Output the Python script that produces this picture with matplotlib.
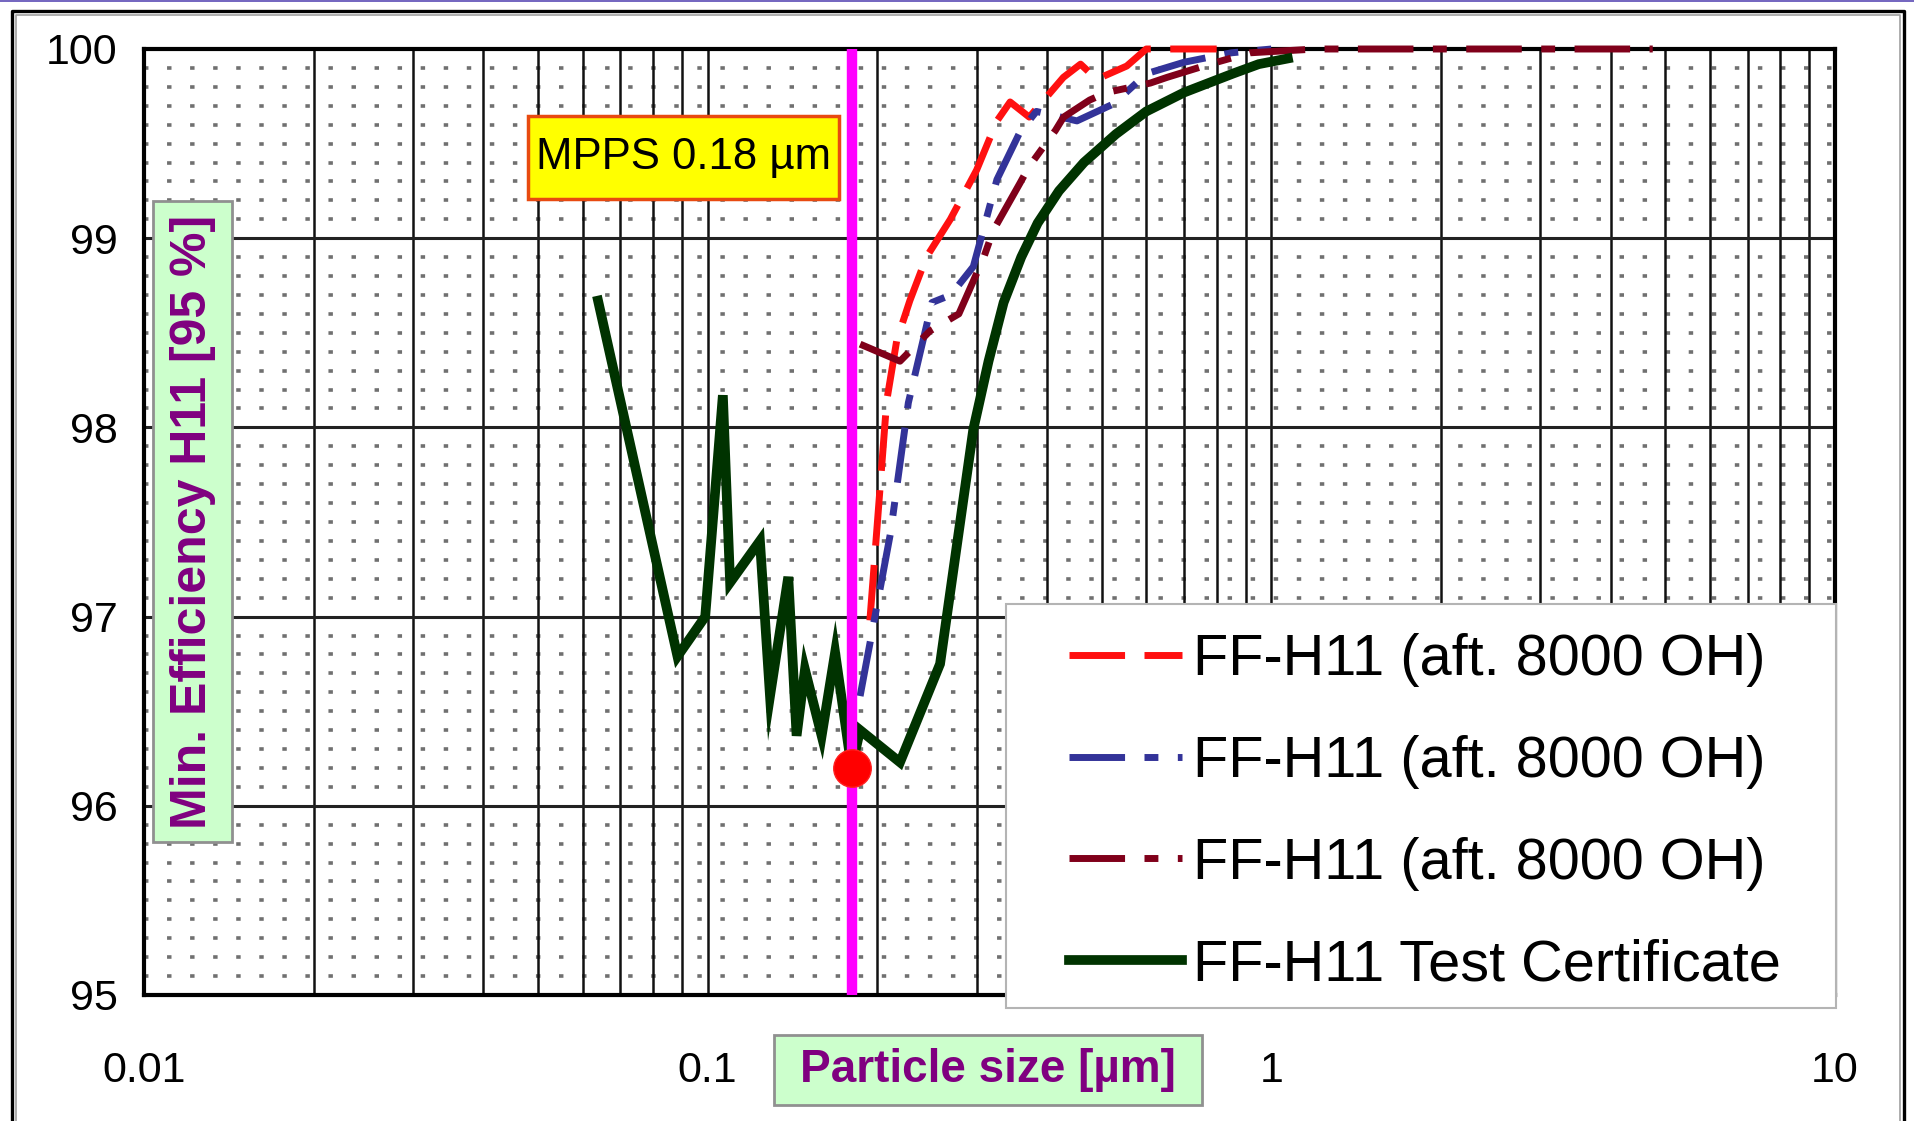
import matplotlib
matplotlib.use("Agg")
import matplotlib.pyplot as plt
from matplotlib.patches import Rectangle
from matplotlib.lines import Line2D
from matplotlib.ticker import NullLocator

plt.rcParams["font.family"] = ["Liberation Sans", "DejaVu Sans"]
plt.rcParams["lines.scale_dashes"] = False

# ---------------- data ----------------
mpps_size = 0.18          # most penetrating particle size [µm]
mpps_eff = 96.2           # efficiency at MPPS [%]

cert_x = [0.0639, 0.0884, 0.0990, 0.1064, 0.1096, 0.1238, 0.129, 0.139, 0.1438,
          0.1488, 0.1593, 0.1683, 0.18, 0.1864, 0.2194, 0.2584, 0.296, 0.315,
          0.335, 0.36, 0.385, 0.42, 0.465, 0.53, 0.60, 0.70, 0.855, 0.95, 1.07]
cert_y = [98.67, 96.79, 97.00, 98.17, 97.18, 97.40, 96.58, 97.21, 96.37,
          96.72, 96.37, 96.81, 96.20, 96.40, 96.23, 96.75, 97.99, 98.35,
          98.66, 98.90, 99.08, 99.25, 99.40, 99.55, 99.67, 99.77, 99.87, 99.92, 99.95]

red_x = [0.194, 0.2078, 0.2165, 0.2284, 0.2444, 0.2695, 0.300, 0.326, 0.344,
         0.372, 0.4276, 0.4587, 0.49, 0.554, 0.60, 0.80]
red_y = [96.98, 98.14, 98.46, 98.67, 98.90, 99.10, 99.36, 99.62, 99.72,
         99.64, 99.85, 99.92, 99.84, 99.91, 100.0, 100.0]

blue_x = [0.1864, 0.211, 0.227, 0.25, 0.27, 0.296, 0.326, 0.358, 0.383,
          0.452, 0.525, 0.601, 0.70, 0.85, 1.0]
blue_y = [96.58, 97.44, 98.13, 98.66, 98.70, 98.85, 99.31, 99.56, 99.67,
          99.62, 99.71, 99.87, 99.93, 99.98, 100.0]

maroon_x = [0.1864, 0.2194, 0.248, 0.279, 0.309, 0.321, 0.358, 0.372, 0.414,
            0.428, 0.476, 0.51, 0.61, 0.653, 0.778, 0.917, 1.2, 4.75]
maroon_y = [98.44, 98.35, 98.51, 98.60, 98.90, 99.04, 99.29, 99.38, 99.57,
            99.64, 99.73, 99.77, 99.82, 99.85, 99.92, 99.98, 100.0, 100.0]

series_labels = ["FF-H11 (aft. 8000 OH)", "FF-H11 (aft. 8000 OH)",
                 "FF-H11 (aft. 8000 OH)", "FF-H11 Test Certificate"]

x_ticks = [0.01, 0.1, 1, 10]
x_ticklabels = ["0.01", "0.1", "1", "10"]
y_ticks = [95, 96, 97, 98, 99, 100]
y_ticklabels = ["95", "96", "97", "98", "99", "100"]

# ---------------- figure ----------------
W, H = 1914, 1121
fig = plt.figure(figsize=(W / 100, H / 100), dpi=100)
fig.patch.set_facecolor("white")
ax = fig.add_axes([144 / W, 1 - 995 / H, (1835 - 144) / W, (995 - 49) / H])
ax.set_xscale("log")
ax.set_xlim(0.01, 10)
ax.set_ylim(95, 100)
ax.set_axisbelow(False)

# grid: solid verticals at every 1..9 x decade, solid horizontals at integers,
# dotted rows every 0.1 %
for k in (-2, -1, 0):
    for m in range(1, 10):
        xv = m * 10.0 ** k
        if 0.01 < xv < 10:
            ax.axvline(xv, color="#111111", lw=1.8, zorder=1.2)
for yv in range(96, 100):
    ax.axhline(yv, color="#222222", lw=2.2, zorder=1.2)
for i in range(50):
    yv = 95 + i * 0.1
    if i % 10 != 0:
        ax.axhline(yv, color="#707070", lw=2.6, linestyle=(0, (3.2, 13.4)),
                   solid_capstyle="butt", dash_capstyle="butt", zorder=1)

# curves
h_red, = ax.plot(red_x, red_y, color="#FF1010", lw=5, linestyle=(0, (40, 14)),
                 clip_on=False, zorder=3.0)
h_blue, = ax.plot(blue_x, blue_y, color="#333399", lw=5,
                  linestyle=(0, (40, 14, 10, 14)), clip_on=False, zorder=3.1)
h_maroon, = ax.plot(maroon_x, maroon_y, color="#80001A", lw=5,
                    linestyle=(0, (40, 14, 10, 14)), clip_on=False, zorder=3.2)
h_green, = ax.plot(cert_x, cert_y, color="#003300", lw=7, solid_joinstyle="miter",
                   clip_on=False, zorder=3.3)

# MPPS marker line and point
ax.axvline(mpps_size, color="#FF00FF", lw=7.5, zorder=3.5)
ax.plot([mpps_size], [mpps_eff], "o", ms=27, color="#FF0000", mec="#FF2020",
        zorder=3.6, clip_on=False)

# MPPS annotation box
ax.add_patch(Rectangle((0.2271, 0.8414), 0.1839, 0.0878, transform=ax.transAxes,
                       fc="#FFFF00", ec="#E84A10", lw=2.5, clip_on=False, zorder=5.8))
ax.text(0.319, 0.8853, "MPPS %.2f µm" % mpps_size, transform=ax.transAxes,
        ha="center", va="center", fontsize=31.5, color="black", zorder=6)

# ticks
ax.set_xticks(x_ticks)
ax.set_xticklabels(x_ticklabels)
ax.xaxis.set_minor_locator(NullLocator())
ax.set_yticks(y_ticks)
ax.set_yticklabels(y_ticklabels)
ax.tick_params(axis="both", length=0, labelsize=31, colors="black")
ax.tick_params(axis="x", pad=40)
ax.tick_params(axis="y", pad=19)

for sp in ax.spines.values():
    sp.set_linewidth(3)
    sp.set_color("black")

# axis labels sitting in light green boxes
ax.add_patch(Rectangle((0.0051, 0.1614), 0.0469, 0.6775, transform=ax.transAxes,
                       fc="#CCFFCC", ec="#909090", lw=2, clip_on=False, zorder=2.0))
ax.set_ylabel("Min. Efficiency H11 [95 %]", fontsize=36, fontweight="bold",
              color="#800080")
ax.yaxis.set_label_coords(0.0287, 0.5005)
ax.yaxis.label.set_va("center")
ax.yaxis.label.set_ha("center")

ax.add_patch(Rectangle((0.3726, -0.1160), 0.2533, 0.0737, transform=ax.transAxes,
                       fc="#CCFFCC", ec="#909090", lw=2, clip_on=False, zorder=2.0))
ax.set_xlabel("Particle size [µm]", fontsize=33, fontweight="bold", color="#800080")
ax.xaxis.set_label_coords(0.4991, -0.0793)
ax.xaxis.label.set_va("center")

# legend with its own white panel
ax.add_patch(Rectangle((0.510, -0.0137), 0.4906, 0.4267, transform=ax.transAxes,
                       fc="white", ec="#b4b4b4", lw=1.5, clip_on=False, zorder=4.5))
leg = ax.legend([h_red, h_blue, h_maroon, h_green], series_labels,
                loc="upper left", bbox_to_anchor=(0.547, 0.3827), frameon=False,
                fontsize=41.5, handlelength=1.96, handletextpad=0.2,
                labelspacing=0.83, borderpad=0, borderaxespad=0)
leg.set_zorder(5)

# outer frame
fig.add_artist(Line2D([0, 1], [1 - 0.8 / H] * 2, transform=fig.transFigure,
                      color="#5a4ab4", lw=1.2))
fx0, fx1, fy1 = 12 / W, 1904 / W, 1 - 11 / H
fig.add_artist(Line2D([fx0, fx0, fx1, fx1], [-0.01, fy1, fy1, -0.01],
                      transform=fig.transFigure, color="black", lw=2.4))
gx0, gx1, gy1 = 16 / W, 1900 / W, 1 - 15 / H
fig.add_artist(Line2D([gx0, gx0, gx1, gx1], [-0.01, gy1, gy1, -0.01],
                      transform=fig.transFigure, color="#a0a0a0", lw=1.2))

fig.savefig("out.png", dpi=100, facecolor="white")
